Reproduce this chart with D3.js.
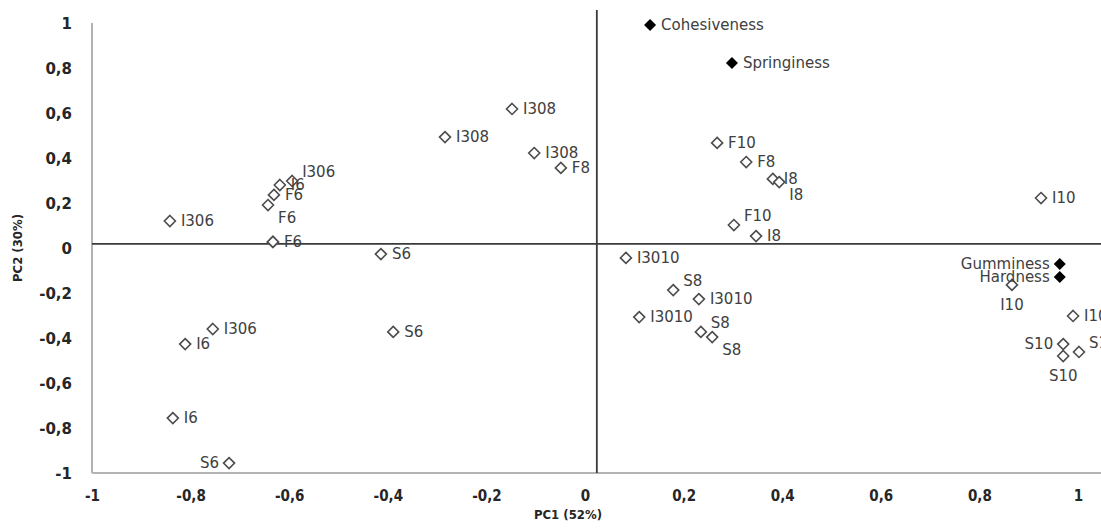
<!DOCTYPE html>
<html>
<head>
<meta charset="utf-8">
<script src="https://cdn.jsdelivr.net/npm/d3@7"></script>
<style>
  html, body { margin: 0; padding: 0; background: #fff; overflow: hidden; }
  svg { display: block; }
</style>
</head>
<body>
<svg id="chart" width="1101" height="530"></svg>
<script>
// ---- data ----
const sampleLabels = ["I306","I306","I6","F6","F6","F6","F6","I306","I6","I6","S6","S6","S6",
  "I308","I308","I308","F8",
  "F10","F8","I8","I8","F10","I8",
  "I3010","S8","I3010","I3010","S8","S8",
  "I10","I10","I10","S10","S10","S10"];
const samplePC1 = [-0.842,-0.594,-0.619,-0.631,-0.643,-0.633,-0.633,-0.755,-0.811,-0.836,-0.414,-0.389,-0.722,
  -0.148,-0.284,-0.103,-0.049,
  0.268,0.327,0.381,0.394,0.302,0.347,
  0.083,0.179,0.231,0.110,0.235,0.258,
  0.925,0.866,0.990,0.970,0.970,1.002];
const samplePC2 = [0.120,0.298,0.280,0.236,0.191,0.027,0.027,-0.360,-0.427,-0.756,-0.027,-0.373,-0.956,
  0.618,0.493,0.422,0.356,
  0.467,0.382,0.307,0.293,0.102,0.053,
  -0.044,-0.187,-0.227,-0.307,-0.373,-0.396,
  0.222,-0.164,-0.302,-0.427,-0.480,-0.462];
// label placement relative to marker: r = right, l = left, b = below, ar = above-right, br = below-right
const sampleLabelPos = ["r","ar","r","r","br","skip","r","r","r","r","r","r","l",
  "r","r","r","r",
  "r","r","r","br","ar","r",
  "r","ar","r","r","ar","br",
  "r","b","r","l","b","ar"];

const varLabels = ["Cohesiveness","Springiness","Gumminess","Hardness"];
const varPC1 = [0.132,0.298,0.963,0.963];
const varPC2 = [0.991,0.822,-0.071,-0.129];
const varLabelPos = ["r","r","l","l"];

const tickValues = [-1,-0.8,-0.6,-0.4,-0.2,0,0.2,0.4,0.6,0.8,1];
const xTitle = "PC1 (52%)";
const yTitle = "PC2 (30%)";
const axisCross = {x: 0.024, y: 0.018};

// ---- layout ----
const svg = d3.select("#chart");
const x = d3.scaleLinear().domain([-1, 1]).range([92, 1078]);
const y = d3.scaleLinear().domain([-1, 1]).range([473, 23]);
const fmt = v => String(+(+v).toFixed(1)).replace(".", ",");
const labelFont = "'DejaVu Sans', sans-serif";

// left and bottom frame lines (light gray)
svg.append("line").attr("x1", x(-1)).attr("x2", x(-1)).attr("y1", y(1)).attr("y2", y(-1))
  .attr("stroke", "#b3b3b3").attr("stroke-width", 2);
svg.append("line").attr("x1", x(-1)).attr("x2", 1101).attr("y1", y(-1)).attr("y2", y(-1))
  .attr("stroke", "#b3b3b3").attr("stroke-width", 2);

// crossing axes
svg.append("line").attr("x1", x(axisCross.x)).attr("x2", x(axisCross.x)).attr("y1", y(1) - 13).attr("y2", y(-1))
  .attr("stroke", "#3a3a3a").attr("stroke-width", 1.8);
svg.append("line").attr("x1", x(-1)).attr("x2", 1101).attr("y1", y(axisCross.y)).attr("y2", y(axisCross.y))
  .attr("stroke", "#3a3a3a").attr("stroke-width", 1.8);

// y tick labels
const yAxis = svg.append("g").attr("transform", `translate(${x(-1) - 20},0)`)
  .call(d3.axisLeft(y).tickValues(tickValues).tickFormat(fmt).tickSize(0).tickPadding(0));
yAxis.select(".domain").remove();
yAxis.selectAll("text").attr("font-family", labelFont).attr("font-size", 15)
  .attr("font-weight", "bold").attr("fill", "#262626").attr("dx", 0).attr("dy", "0.35em");

// x tick labels
const xAxis = svg.append("g").attr("transform", `translate(0,${y(-1) + 23})`)
  .call(d3.axisBottom(x).tickValues(tickValues).tickFormat(fmt).tickSize(0).tickPadding(0));
xAxis.select(".domain").remove();
xAxis.selectAll("text").attr("font-family", "'DejaVu Sans Condensed', sans-serif").attr("font-size", 15)
  .attr("font-weight", "bold").attr("fill", "#262626").attr("dy", "0.35em");

// axis titles
svg.append("text").attr("x", 568).attr("y", 519).attr("text-anchor", "middle")
  .attr("font-family", "'DejaVu Sans Condensed', sans-serif").attr("font-size", 13).attr("font-weight", "bold")
  .attr("fill", "#262626").text(xTitle);
svg.append("text").attr("transform", `translate(22,${y(0)}) rotate(-90)`).attr("text-anchor", "middle")
  .attr("font-family", "'DejaVu Sans Condensed', sans-serif").attr("font-size", 13).attr("font-weight", "bold")
  .attr("fill", "#262626").text(yTitle);

const samplePath = "M0,-5.5L5.5,0L0,5.5L-5.5,0Z";
const varPath = "M0,-6L6,0L0,6L-6,0Z";

function labelOffset(pos) {
  return {
    r:  {dx: 11, dy: 0, anchor: "start"},
    l:  {dx: -10, dy: 0, anchor: "end"},
    b:  {dx: 0, dy: 20, anchor: "middle"},
    ar: {dx: 10, dy: -9, anchor: "start"},
    br: {dx: 10, dy: 13, anchor: "start"}
  }[pos];
}

// samples
const samples = sampleLabels.map((l, i) => ({label: l, px: samplePC1[i], py: samplePC2[i], pos: sampleLabelPos[i]}));
const g = svg.append("g");
g.selectAll("path.sample").data(samples).join("path").attr("class", "sample")
  .attr("d", samplePath)
  .attr("transform", d => `translate(${x(d.px)},${y(d.py)})`)
  .attr("fill", "#fff").attr("stroke", "#4d4d4d").attr("stroke-width", 1.6);
g.selectAll("text.slabel").data(samples.filter(d => d.pos !== "skip")).join("text").attr("class", "slabel")
  .each(function(d) {
    const o = labelOffset(d.pos);
    d3.select(this).attr("x", x(d.px) + o.dx).attr("y", y(d.py) + o.dy).attr("text-anchor", o.anchor);
  })
  .attr("dy", "0.35em")
  .attr("font-family", labelFont).attr("font-size", 15).attr("fill", "#404040")
  .text(d => d.label);

// variables
const vars = varLabels.map((l, i) => ({label: l, px: varPC1[i], py: varPC2[i], pos: varLabelPos[i]}));
g.selectAll("path.var").data(vars).join("path").attr("class", "var")
  .attr("d", varPath)
  .attr("transform", d => `translate(${x(d.px)},${y(d.py)})`)
  .attr("fill", "#000");
g.selectAll("text.vlabel").data(vars).join("text").attr("class", "vlabel")
  .each(function(d) {
    const o = labelOffset(d.pos);
    d3.select(this).attr("x", x(d.px) + o.dx).attr("y", y(d.py) + o.dy).attr("text-anchor", o.anchor);
  })
  .attr("dy", "0.35em")
  .attr("font-family", labelFont).attr("font-size", 15).attr("fill", "#404040")
  .text(d => d.label);
</script>
</body>
</html>
